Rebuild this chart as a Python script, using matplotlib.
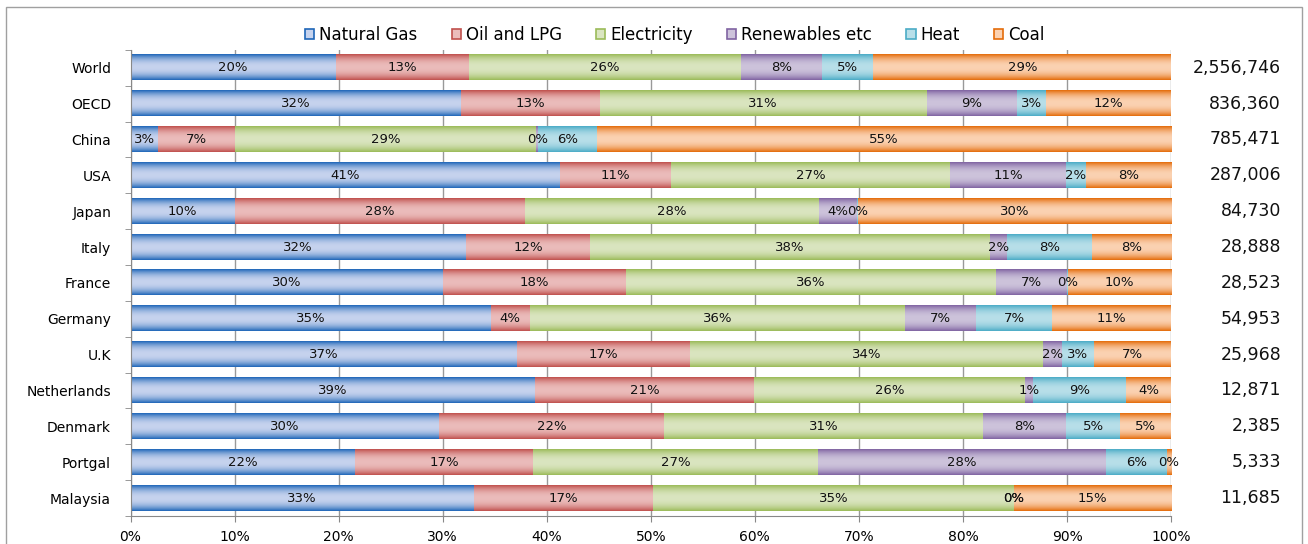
"""Final energy consumption by source, 100% stacked bars per region."""
import matplotlib

matplotlib.use("Agg")
import matplotlib.pyplot as plt  # noqa: E402
import matplotlib.transforms as mtransforms  # noqa: E402
import numpy as np  # noqa: E402
from matplotlib.colors import to_rgb  # noqa: E402
from matplotlib.patches import Patch, Rectangle  # noqa: E402

regions = ["World", "OECD", "China", "USA", "Japan", "Italy", "France",
           "Germany", "U.K", "Netherlands", "Denmark", "Portgal", "Malaysia"]

# shares in % of total final consumption
natural_gas = [19.7, 31.8, 2.6, 41.3, 10.0, 32.2, 30.0, 34.6, 37.1, 38.9, 29.6, 21.6, 33.0]
oil_lpg = [12.8, 13.3, 7.4, 10.6, 27.9, 12.0, 17.6, 3.8, 16.7, 21.0, 21.7, 17.1, 17.2]
electricity = [26.2, 31.4, 29.0, 26.9, 28.3, 38.4, 35.6, 36.0, 33.9, 26.1, 30.6, 27.4, 34.7]
renewables = [7.8, 8.7, 0.2, 11.1, 3.6, 1.6, 6.8, 6.9, 1.8, 0.7, 8.0, 27.6, 0.0]
heat = [4.9, 2.8, 5.6, 1.9, 0.1, 8.2, 0.1, 7.3, 3.1, 9.0, 5.2, 5.9, 0.0]
coal = [28.6, 12.0, 55.2, 8.2, 30.1, 7.6, 9.9, 11.4, 7.4, 4.3, 4.9, 0.4, 15.1]

totals = [2556746, 836360, 785471, 287006, 84730, 28888, 28523,
          54953, 25968, 12871, 2385, 5333, 11685]

series = [
    ("Natural Gas", natural_gas, "#1F66B8", "#C6D3EE"),
    ("Oil and LPG", oil_lpg, "#C0504D", "#EBBCBB"),
    ("Electricity", electricity, "#9BBB59", "#DAE5C0"),
    ("Renewables etc", renewables, "#8064A2", "#CDC3DB"),
    ("Heat", heat, "#4BACC6", "#B8DFE9"),
    ("Coal", coal, "#E46C0A", "#FBD2B2"),
]


def gradient(edge, light, n=64):
    """Vertical band: dark at the top/bottom edges, pale in the middle."""
    t = np.linspace(0, 1, n)
    f = 1 - np.abs(2 * t - 1) ** 2.2
    e, l = np.array(to_rgb(edge)), np.array(to_rgb(light))
    col = e[None, :] + (l - e)[None, :] * f[:, None]
    return col[:, None, :]


fig = plt.figure(figsize=(13.08, 5.44), dpi=100)
ax = fig.add_axes([0.0998, 0.0515, 0.7955, 0.857])

y = np.arange(len(regions))
left = np.zeros(len(regions))
for name, vals, edge, light in series:
    vals = np.asarray(vals, dtype=float)
    bars = ax.barh(y, vals, left=left, height=0.70, color="none",
                   edgecolor="none", zorder=2)
    img = gradient(edge, light)
    for patch, v in zip(bars.patches, vals):
        x0, y0 = patch.get_x(), patch.get_y()
        w, h = patch.get_width(), patch.get_height()
        if w > 0:
            ax.imshow(img, extent=(x0, x0 + w, y0 + h, y0), aspect="auto",
                      interpolation="bilinear", zorder=2)
        ax.text(x0 + w / 2, y0 + h / 2, f"{v:.0f}%", ha="center", va="center",
                fontsize=9.5, color="#111111", zorder=3)
    left += vals

ax.set_xlim(0, 100)
ax.set_ylim(len(regions) - 0.5, -0.5)
ax.set_aspect("auto")

ax.set_xticks(np.arange(0, 101, 10))
ax.set_xticklabels([f"{v}%" for v in range(0, 101, 10)], fontsize=10)
ax.set_yticks(y)
ax.set_yticklabels(regions, fontsize=10)
ax.set_yticks(np.arange(-0.5, len(regions), 1), minor=True)
ax.tick_params(axis="y", which="major", length=0, pad=14)
ax.tick_params(axis="y", which="minor", length=4, color="#888888")
ax.tick_params(axis="x", length=4, color="#888888", pad=6)

ax.grid(axis="x", color="#999999", linewidth=1)
ax.set_axisbelow(True)
for side in ("top", "right"):
    ax.spines[side].set_visible(False)
for side in ("left", "bottom"):
    ax.spines[side].set_color("#888888")

trans = mtransforms.blended_transform_factory(ax.transAxes, ax.transData)
for yi, tot in zip(y, totals):
    ax.text(1.1057, yi, f"{tot:,}", transform=trans, ha="right", va="center",
            fontsize=12.5, color="#111111")

handles = [Patch(facecolor=light, edgecolor=edge, linewidth=1.2, label=name)
           for name, _, edge, light in series]
fig.legend(handles=handles, loc="center", bbox_to_anchor=(0.516, 1 - 35 / 544),
           ncol=6, frameon=False, fontsize=12, handlelength=0.55,
           handleheight=0.55, handletextpad=0.3, columnspacing=2.05)

fig.patches.append(Rectangle((6 / 1308, -0.05), 1296 / 1308, 1.05 - 7 / 544,
                             transform=fig.transFigure, fill=False,
                             edgecolor="#A0A0A0", linewidth=1))

fig.savefig("out.png", dpi=100)
plt.close(fig)
